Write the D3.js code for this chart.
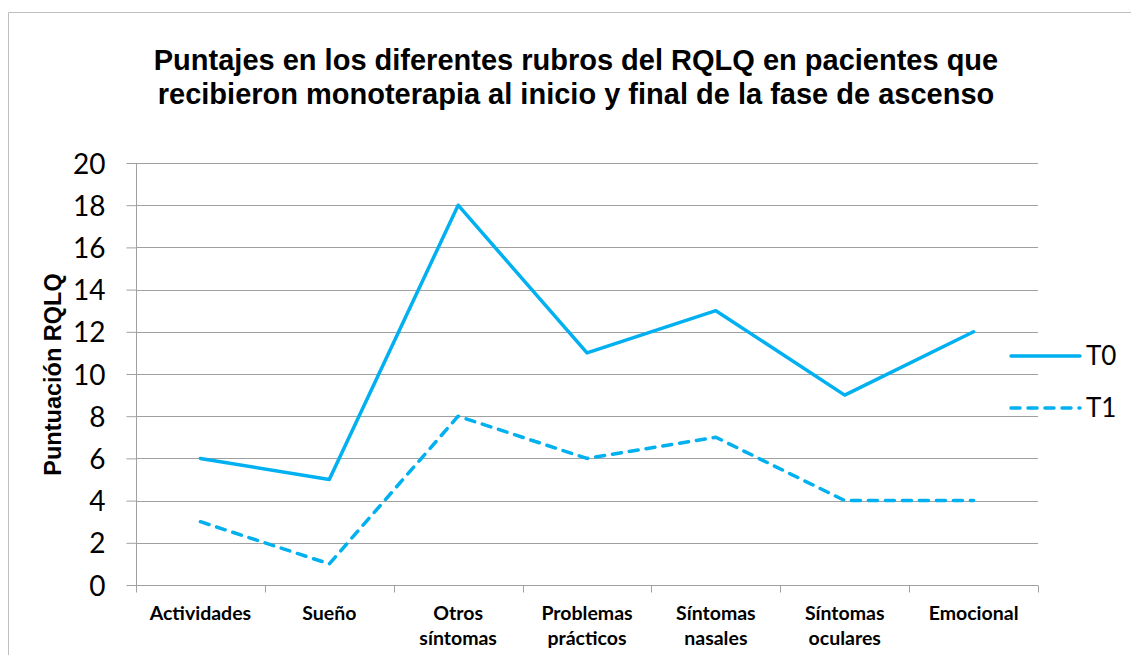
<!DOCTYPE html>
<html>
<head>
<meta charset="utf-8">
<script src="https://cdn.jsdelivr.net/npm/d3@7"></script>
<style>
  body { margin: 0; background: #fff; }
  svg { display: block; }
  .arial { font-family: "Liberation Sans", Arial, sans-serif; font-weight: bold; }
</style>
</head>
<body>
<svg id="chart" width="1131" height="655"></svg>
<script>
var categories = [["Actividades"], ["Sueño"], ["Otros", "síntomas"], ["Problemas", "prácticos"],
                  ["Síntomas", "nasales"], ["Síntomas", "oculares"], ["Emocional"]];
var t0 = [6, 5, 18, 11, 13, 9, 12];
var t1 = [3, 1, 8, 6, 7, 4, 4];
var yTicks = [0, 2, 4, 6, 8, 10, 12, 14, 16, 18, 20];
var seriesNames = ["T0", "T1"];

var blue = "#00B0F0";
var grid = "#a0a0a0";
var calibri = "Lato, 'Open Sans', sans-serif";
var margin = {top: 163, left: 136, right: 93, bottom: 70};
var width = 1131 - margin.left - margin.right,
    height = 655 - margin.top - margin.bottom;

var svg = d3.select("#chart");

// outer border of the chart area
svg.append("path")
    .attr("d", "M8.5,655 L8.5,12.5 L1131,12.5")
    .attr("fill", "none")
    .attr("stroke", "#bfbfbf")
    .attr("stroke-width", 1);

svg.append("text")
    .attr("class", "arial")
    .attr("y", 70)
    .attr("text-anchor", "middle")
    .attr("font-size", 29)
    .selectAll("tspan")
    .data(["Puntajes en los diferentes rubros del RQLQ en pacientes que",
           "recibieron monoterapia al inicio y final de la fase de ascenso"])
    .join("tspan")
    .attr("x", 576)
    .attr("dy", (d, i) => i === 0 ? 0 : 34)
    .text(d => d);

var g = svg.append("g")
    .attr("transform", "translate(" + margin.left + "," + margin.top + ")");

var x = d3.scaleBand()
    .domain(d3.range(categories.length))
    .range([0, width]);

var y = d3.scaleLinear()
    .domain([0, 20])
    .range([height, 0]);

// horizontal gridlines
g.append("g")
    .selectAll("line")
    .data(yTicks.filter(d => d > 0))
    .join("line")
    .attr("x1", 0)
    .attr("x2", width)
    .attr("y1", d => Math.round(y(d)) + 0.5)
    .attr("y2", d => Math.round(y(d)) + 0.5)
    .attr("stroke", grid)
    .attr("stroke-width", 1);

// y axis
var yAxis = g.append("g")
    .attr("transform", "translate(0.5,0)")
    .call(d3.axisLeft(y).tickValues(yTicks).tickSize(10).tickPadding(21));
yAxis.selectAll("line, path").attr("stroke", grid);
yAxis.select(".domain").attr("d", "M0," + height + "V0");
yAxis.selectAll("text")
    .style("font-family", calibri)
    .style("font-size", "28px")
    .attr("fill", "#000")
    .attr("dy", "0.36em");

// x axis with ticks on category boundaries
var xAxisG = g.append("g")
    .attr("transform", "translate(0," + (Math.round(height) + 0.5) + ")");
xAxisG.append("line")
    .attr("x1", 0).attr("x2", width)
    .attr("stroke", grid);
xAxisG.selectAll("line.tick")
    .data(d3.range(categories.length + 1))
    .join("line")
    .attr("class", "tick")
    .attr("x1", d => Math.round(d * x.bandwidth()) + 0.5)
    .attr("x2", d => Math.round(d * x.bandwidth()) + 0.5)
    .attr("y1", 0)
    .attr("y2", 7)
    .attr("stroke", grid);
xAxisG.selectAll("text")
    .data(categories)
    .join("text")
    .attr("text-anchor", "middle")
    .attr("transform", (d, i) => "translate(" + (x(i) + x.bandwidth() / 2) + ",34)")
    .style("font-family", calibri)
    .style("font-weight", "bold")
    .style("font-size", "19.5px")
    .selectAll("tspan")
    .data(d => d)
    .join("tspan")
    .attr("x", 0)
    .attr("dy", (d, i) => i === 0 ? 0 : 25)
    .text(d => d);

svg.append("text")
    .attr("class", "arial")
    .attr("transform", "translate(61,374.5) rotate(-90)")
    .attr("text-anchor", "middle")
    .attr("font-size", 23.5)
    .text("Puntuación RQLQ");

var line = d3.line()
    .x((d, i) => x(i) + x.bandwidth() / 2)
    .y(d => y(d));

var dashes = [null, "9,8"];
[t0, t1].forEach((s, k) => {
    g.append("path")
        .datum(s)
        .attr("d", line)
        .attr("fill", "none")
        .attr("stroke", blue)
        .attr("stroke-width", 3.5)
        .attr("stroke-linecap", "round")
        .attr("stroke-linejoin", "round")
        .attr("stroke-dasharray", dashes[k]);
});

// legend
var legend = svg.append("g")
    .attr("transform", "translate(1011,356)");
seriesNames.forEach((name, k) => {
    var item = legend.append("g")
        .attr("transform", "translate(0," + k * 52 + ")");
    item.append("line")
        .attr("x1", 0).attr("x2", 69)
        .attr("stroke", blue)
        .attr("stroke-width", 3.5)
        .attr("stroke-linecap", "round")
        .attr("stroke-dasharray", dashes[k]);
    item.append("text")
        .attr("x", 75)
        .attr("dy", "0.36em")
        .style("font-family", calibri)
        .style("font-size", "26px")
        .text(name);
});
</script>
</body>
</html>
